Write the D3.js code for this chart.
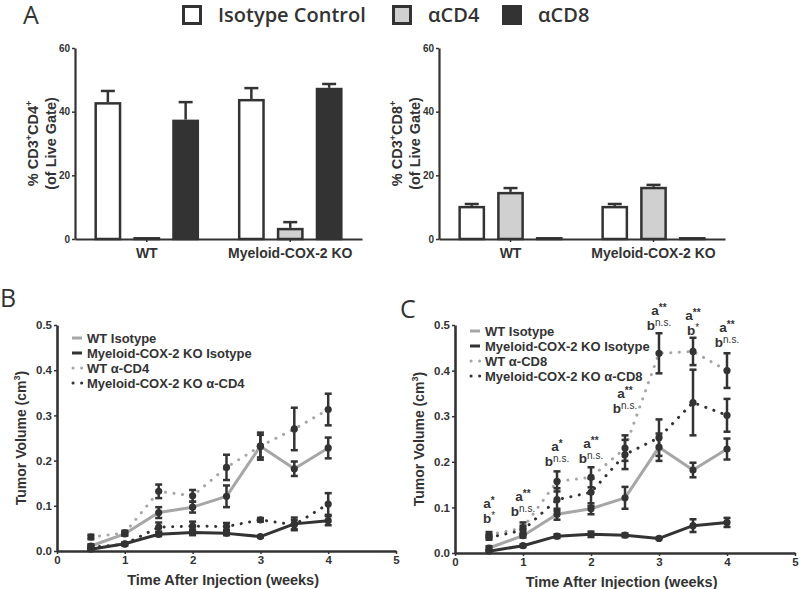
<!DOCTYPE html>
<html><head><meta charset="utf-8">
<script src="https://cdn.jsdelivr.net/npm/d3@7"></script>
<style>
body{margin:0;background:#fff}
svg{display:block}
text{font-family:"Liberation Sans",Arial,sans-serif;font-weight:bold;fill:#333}
.big{font-family:"Open Sans",sans-serif}
</style></head><body>
<svg id="c" width="800" height="589"></svg>
<script>
// ---------- Panel A data ----------
const groups = ["WT", "Myeloid-COX-2 KO"];
const treatments = ["Isotype Control", "αCD4", "αCD8"];
const treatLabels = ["Isotype Control", "αCD4", "αCD8"];
const treatFill = ["#ffffff", "#d0d0d0", "#333333"];
const cd4Mean = [[43, 0.3, 37.5], [44, 3.5, 47.5]];
const cd4Err  = [[3.5, 0, 5.5], [3.4, 1.8, 1.2]];
const cd8Mean = [[10.4, 14.8, 0.3], [10.4, 16.4, 0.3]];
const cd8Err  = [[0.6, 1.2, 0], [0.6, 0.6, 0]];
const yTicksA = [0, 20, 40, 60];

// ---------- Panels B / C data ----------
const weeks = [0.5, 1, 1.5, 2, 2.5, 3, 3.5, 4];
const xTicks = [0, 1, 2, 3, 4, 5];
const yTicksBC = [0, 0.1, 0.2, 0.3, 0.4, 0.5];
const wtIso    = [0.011, 0.038, 0.085, 0.097, 0.121, 0.232, 0.182, 0.228];
const wtIsoErr = [0.004, 0.004, 0.012, 0.012, 0.024, 0.03, 0.016, 0.023];
const koIso    = [0.004, 0.016, 0.037, 0.041, 0.039, 0.032, 0.06, 0.067];
const koIsoErr = [0.002, 0.003, 0.004, 0.006, 0.004, 0.002, 0.014, 0.01];
const wtCD4    = [0.031, 0.04, 0.132, 0.122, 0.185, 0.232, 0.27, 0.313];
const wtCD4Err = [0.005, 0.005, 0.015, 0.013, 0.028, 0.025, 0.047, 0.035];
const koCD4    = [0.008, 0.015, 0.053, 0.055, 0.054, 0.069, 0.058, 0.104];
const koCD4Err = [0.004, 0.003, 0.01, 0.01, 0.008, 0.004, 0.01, 0.024];
const wtCD8    = [0.04, 0.055, 0.157, 0.166, 0.23, 0.438, 0.442, 0.40];
const wtCD8Err = [0.006, 0.012, 0.022, 0.022, 0.028, 0.044, 0.03, 0.038];
const koCD8    = [0.034, 0.05, 0.117, 0.133, 0.216, 0.253, 0.33, 0.302];
const koCD8Err = [0.005, 0.01, 0.025, 0.03, 0.032, 0.04, 0.072, 0.036];
const annotA = ["*", "**", "*", "**", "**", "**", "**", "**"];
const annotB = ["*", "n.s.", "n.s.", "n.s.", "n.s.", "n.s.", "*", "n.s."];
const annotLevel = [0.066, 0.081, 0.191, 0.198, 0.308, 0.49, 0.477, 0.451];

const DARK = "#333333";
const svg = d3.select("#c");

// ---------- legend top ----------
const legX = [182, 392, 502];
treatLabels.forEach((t, i) => {
  svg.append("rect").attr("x", legX[i] + 1.5).attr("y", 6.5).attr("width", 17).attr("height", 17)
    .attr("fill", treatFill[i]).attr("stroke", DARK).attr("stroke-width", 3);
  svg.append("text").attr("class", "big").attr("x", legX[i] + 36).attr("y", 22)
    .style("font-size", "20px").style("font-weight", "600").text(t);
});
svg.append("text").attr("class", "big").attr("x", 23).attr("y", 24)
  .style("font-size", "25px").style("font-weight", "400").text("A");

function barPanel(x0, x1, yTop, yBot, means, errs, mk) {
  const g = svg.append("g");
  const x = d3.scaleBand().domain(groups).range([x0, x1]).padding(0);
  const xs = d3.scaleBand().domain(treatments).range([0, x.bandwidth()]).paddingInner(0.31).paddingOuter(0.5);
  const y = d3.scaleLinear().domain([0, 60]).range([yBot, yTop]);
  const sw = 2.5;
  groups.forEach((gr, gi) => {
    treatments.forEach((t, ti) => {
      const v = means[gi][ti], e = errs[gi][ti];
      const bx = x(gr) + xs(t);
      const cx = bx + xs.bandwidth() / 2;
      if (e > 0) {
        g.append("line").attr("x1", cx).attr("x2", cx).attr("y1", y(v)).attr("y2", y(v + e))
          .attr("stroke", DARK).attr("stroke-width", sw);
        g.append("line").attr("x1", cx - 7).attr("x2", cx + 7).attr("y1", y(v + e)).attr("y2", y(v + e))
          .attr("stroke", DARK).attr("stroke-width", sw);
      }
      g.append("rect").attr("x", bx + sw / 2).attr("width", xs.bandwidth() - sw)
        .attr("y", y(v) + sw / 2 - (v < 1 ? 1 : 0)).attr("height", Math.max(0.5, y(0) - y(v) - sw / 2 + (v < 1 ? 1 : 0)))
        .attr("fill", treatFill[ti]).attr("stroke", DARK).attr("stroke-width", sw);
    });
  });
  const ya = g.append("g").attr("transform", `translate(${x0},0)`)
    .call(d3.axisLeft(y).tickValues(yTicksA).tickSize(3).tickPadding(2).tickSizeOuter(0));
  ya.selectAll("text").style("font-size", "10px").attr("fill", DARK);
  const xa = g.append("g").attr("transform", `translate(0,${yBot})`)
    .call(d3.axisBottom(x).tickSize(3).tickPadding(6).tickSizeOuter(0));
  xa.selectAll("text").style("font-size", "14px").attr("fill", DARK);
  [ya, xa].forEach(a => {
    a.select(".domain").attr("stroke", DARK).attr("stroke-width", 2.2);
    a.selectAll(".tick line").attr("stroke", DARK).attr("stroke-width", 1.5);
  });
  const cy = (yTop + yBot) / 2;
  const t1 = g.append("text").attr("transform", `translate(${x0 - 37},${cy}) rotate(-90)`)
    .attr("text-anchor", "middle").style("font-size", "14.5px");
  t1.append("tspan").text("% CD3");
  t1.append("tspan").attr("dy", -6).style("font-size", "9px").text("+");
  t1.append("tspan").attr("dy", 6).text("CD" + mk);
  t1.append("tspan").attr("dy", -6).style("font-size", "9px").text("+");
  g.append("text").attr("transform", `translate(${x0 - 19},${cy}) rotate(-90)`)
    .attr("text-anchor", "middle").style("font-size", "14.5px").text("(of Live Gate)");
}
barPanel(75, 362, 48, 239, cd4Mean, cd4Err, "4");
barPanel(439, 725, 48, 239, cd8Mean, cd8Err, "8");

function linePanel(x0, x1, yTop, yBot, series, legendNames, legX, legY, letter, lx, ly, annot) {
  const g = svg.append("g");
  const x = d3.scaleLinear().domain([0, 5]).range([x0, x1]);
  const y = d3.scaleLinear().domain([0, 0.5]).range([yBot, yTop]);
  const line = d3.line().x((d, i) => x(weeks[i])).y(d => y(d));
  series.forEach(s => {
    g.append("path").datum(s.v).attr("d", line).attr("fill", "none")
      .attr("stroke", s.c).attr("stroke-width", 3)
      .attr("stroke-linecap", s.dot ? "round" : "butt").attr("stroke-linejoin", "round")
      .attr("stroke-dasharray", s.dot ? "0.1 8.5" : null);
  });
  series.forEach(s => {
    s.v.forEach((v, i) => {
      const cx = x(weeks[i]), e = s.e[i];
      g.append("line").attr("x1", cx).attr("x2", cx).attr("y1", y(v - e)).attr("y2", y(v + e))
        .attr("stroke", DARK).attr("stroke-width", 2.5);
      [v - e, v + e].forEach(w => g.append("line").attr("x1", cx - 3.5).attr("x2", cx + 3.5)
        .attr("y1", y(w)).attr("y2", y(w)).attr("stroke", DARK).attr("stroke-width", 2.5));
    });
  });
  series.forEach(s => {
    s.v.forEach((v, i) => g.append("circle").attr("cx", x(weeks[i])).attr("cy", y(v)).attr("r", 3.6).attr("fill", DARK));
  });
  const xa = g.append("g").attr("transform", `translate(0,${yBot})`)
    .call(d3.axisBottom(x).tickValues(xTicks).tickFormat(d3.format("d")).tickSize(3).tickPadding(2).tickSizeOuter(0));
  xa.selectAll("text").style("font-size", "11.5px").attr("fill", DARK);
  const ya = g.append("g").attr("transform", `translate(${x0},0)`)
    .call(d3.axisLeft(y).tickValues(yTicksBC).tickFormat(d3.format(".1f")).tickSize(3).tickPadding(2).tickSizeOuter(0));
  ya.selectAll("text").style("font-size", "11.5px").attr("fill", DARK);
  [xa, ya].forEach(a => {
    a.select(".domain").attr("stroke", DARK).attr("stroke-width", 2.6);
    a.selectAll(".tick line").attr("stroke", DARK).attr("stroke-width", 1.5);
  });
  g.append("text").attr("x", (x0 + x(4.9)) / 2).attr("y", yBot + 34).attr("text-anchor", "middle")
    .style("font-size", "14.5px").text("Time After Injection (weeks)");
  const yt = g.append("text").attr("transform", `translate(${x0 - 31},${(yTop + yBot) / 2}) rotate(-90)`)
    .attr("text-anchor", "middle").style("font-size", "14px");
  yt.append("tspan").text("Tumor Volume (cm");
  yt.append("tspan").attr("dy", -6).style("font-size", "9px").text("3");
  yt.append("tspan").attr("dy", 6).text(")");
  series.forEach((s, i) => {
    const yy = legY + i * 15;
    g.append("line").attr("x1", legX).attr("x2", legX + 10).attr("y1", yy).attr("y2", yy)
      .attr("stroke", s.c).attr("stroke-width", 3)
      .attr("stroke-linecap", s.dot ? "round" : "butt")
      .attr("stroke-dasharray", s.dot ? "0.1 8.5" : null).attr("transform", s.dot ? "translate(1,0)" : null);
    g.append("text").attr("x", legX + 15).attr("y", yy + 5).style("font-size", "13px").text(legendNames[i]);
  });
  svg.append("text").attr("class", "big").attr("x", lx).attr("y", ly)
    .style("font-size", "25px").style("font-weight", "400").text(letter);
  if (annot) {
    weeks.forEach((w, i) => {
      const by = y(annotLevel[i]);
      const ta = g.append("text").attr("x", x(w)).attr("y", by - 15).attr("text-anchor", "middle").style("font-size", "13.5px");
      ta.append("tspan").text("a");
      ta.append("tspan").attr("dy", -4).style("font-size", "10px").text(annotA[i]);
      const tb = g.append("text").attr("x", x(w)).attr("y", by).attr("text-anchor", "middle").style("font-size", "13.5px");
      tb.append("tspan").text("b");
      tb.append("tspan").attr("dy", -4).style("font-size", "10px").style("font-weight", "normal").text(annotB[i]);
    });
  }
}
const GREY = "#a6a6a6";
linePanel(57, 396, 325, 551, [
  { v: wtIso, e: wtIsoErr, c: GREY, dot: false },
  { v: koIso, e: koIsoErr, c: DARK, dot: false },
  { v: wtCD4, e: wtCD4Err, c: GREY, dot: true },
  { v: koCD4, e: koCD4Err, c: DARK, dot: true }
], ["WT Isotype", "Myeloid-COX-2 KO Isotype", "WT α-CD4", "Myeloid-COX-2 KO α-CD4"], 72, 338, "B", 0, 307, false);
linePanel(455, 795, 325, 553, [
  { v: wtIso, e: wtIsoErr, c: GREY, dot: false },
  { v: koIso, e: koIsoErr, c: DARK, dot: false },
  { v: wtCD8, e: wtCD8Err, c: GREY, dot: true },
  { v: koCD8, e: koCD8Err, c: DARK, dot: true }
], ["WT Isotype", "Myeloid-COX-2 KO Isotype", "WT α-CD8", "Myeloid-COX-2 KO α-CD8"], 470, 331, "C", 400, 318, true);
</script></body></html>
